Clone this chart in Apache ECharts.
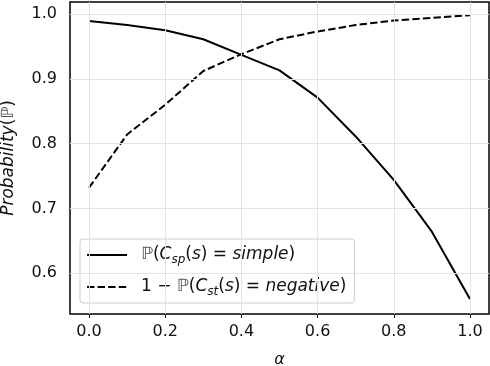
<!DOCTYPE html>
<html>
<head>
<meta charset="utf-8">
<script src="https://cdn.jsdelivr.net/npm/echarts@6/dist/echarts.min.js"></script>
<style>
  html, body { margin: 0; padding: 0; background: #fff; }
  #chart { width: 490px; height: 366px; }
</style>
</head>
<body>
<div id="chart"></div>
<script>
// alpha values on the x axis
const alphas = [0.0, 0.1, 0.2, 0.3, 0.4, 0.5, 0.6, 0.7, 0.8, 0.9, 1.0];
// P(C_sp(s) = simple)
const simpleProb = [0.989, 0.983, 0.975, 0.961, 0.937, 0.913, 0.871, 0.811, 0.744, 0.664, 0.560];
// 1 - P(C_st(s) = negative)
const negativeProb = [0.732, 0.814, 0.860, 0.912, 0.938, 0.961, 0.973, 0.983, 0.990, 0.994, 0.998];
const xTicks = [0.0, 0.2, 0.4, 0.6, 0.8, 1.0];
const yTicks = [0.6, 0.7, 0.8, 0.9, 1.0];

const font = 'DejaVu Sans';
const richOf = (size) => ({
  u: { fontFamily: font, fontSize: size, color: '#111' },
  i: { fontFamily: font, fontSize: size, fontStyle: 'italic', color: '#111' },
  b: { fontFamily: font, fontSize: size, color: '#555' },
  sub: { fontFamily: font, fontSize: Math.round(size * 0.7), fontStyle: 'italic', color: '#111', padding: [9, 0, 0, 0] },
});

const pairs = (xs, ys) => xs.map((x, k) => [x, ys[k]]);

const myChart = echarts.init(document.getElementById('chart'));
myChart.setOption({
  animation: false,
  backgroundColor: '#fff',
  grid: {
    left: 70, right: 1, top: 2, bottom: 52, outerBoundsMode: 'none', containLabel: false,
    show: true, borderColor: '#000', borderWidth: 1.5, backgroundColor: 'transparent',
  },
  xAxis: {
    type: 'value', min: -0.05, max: 1.05,
    name: 'α', nameLocation: 'middle', nameGap: 38,
    nameTextStyle: { fontFamily: font, fontSize: 16, fontStyle: 'italic', color: '#111' },
    axisLine: { show: false },
    axisTick: { show: true, length: 4, customValues: xTicks, lineStyle: { color: '#000', width: 1 } },
    axisLabel: {
      customValues: xTicks, margin: 10, fontFamily: font, fontSize: 16, color: '#111',
      formatter: (v) => v.toFixed(1),
    },
    splitLine: { show: false },
  },
  yAxis: {
    type: 'value', min: 0.537, max: 1.0185,
    name: '{i|Probability}{u|(}{b|ℙ}{u|)}', nameLocation: 'middle', nameGap: 53,
    nameTextStyle: { rich: richOf(17) },
    axisLine: { show: false },
    axisTick: { show: true, length: 4, customValues: yTicks, lineStyle: { color: '#000', width: 1 } },
    axisLabel: {
      customValues: yTicks, margin: 13, fontFamily: font, fontSize: 16, color: '#111',
      formatter: (v) => v.toFixed(1),
    },
    splitLine: { show: false },
  },
  legend: {
    orient: 'vertical', left: 80, top: 239,
    padding: [5, 8, 5, 6], itemGap: 10, itemWidth: 40, itemHeight: 14,
    backgroundColor: 'rgba(255,255,255,0.8)', borderColor: '#cccccc', borderWidth: 1, borderRadius: 3,
    itemStyle: { opacity: 0 },
    data: ['simple', 'negative'],
    textStyle: { rich: richOf(17), lineHeight: 22, padding: [0, 0, 0, 9] },
    formatter: (name) => name === 'simple'
      ? '{b|ℙ}{u|(}{i|C}{sub|sp}{u|(}{i|s}{u|) = }{i|simple}{u|)}'
      : '{u|1 − }{b|ℙ}{u|(}{i|C}{sub|st}{u|(}{i|s}{u|) = }{i|negative}{u|)}',
  },
  series: [
    {
      // grid lines behind the data
      type: 'line', data: [], z: 0, silent: true,
      markLine: {
        silent: true, symbol: ['none', 'none'], label: { show: false },
        lineStyle: { color: '#e3e3e3', type: 'solid', width: 1 },
        emphasis: { disabled: true },
        data: xTicks.map((v) => ({ xAxis: v })).concat(yTicks.map((v) => ({ yAxis: v }))),
      },
    },
    {
      name: 'simple', type: 'line', z: 3, symbol: 'none',
      data: pairs(alphas, simpleProb),
      lineStyle: { color: '#000', width: 2 }, itemStyle: { color: '#000' },
    },
    {
      name: 'negative', type: 'line', z: 3, symbol: 'none',
      data: pairs(alphas, negativeProb),
      lineStyle: { color: '#000', width: 2, type: [7.4, 3.2] }, itemStyle: { color: '#000' },
    },
  ],
});
</script>
</body>
</html>
